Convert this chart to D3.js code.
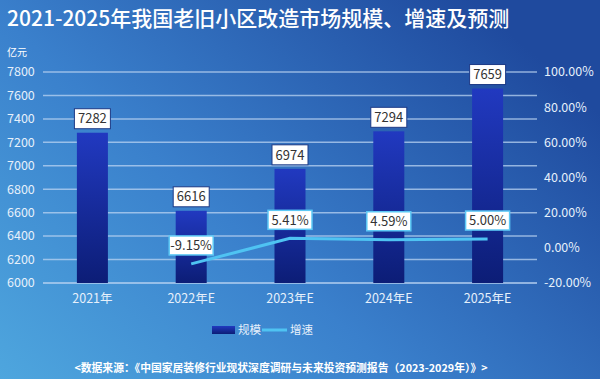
<!DOCTYPE html>
<html><head><meta charset="utf-8">
<script src="https://cdn.jsdelivr.net/npm/d3@7"></script>
<style>html,body{margin:0;padding:0;overflow:hidden;}svg{display:block;}</style>
</head><body>
<script>
const categories = ["2021年","2022年E","2023年E","2024年E","2025年E"];
const scaleValues = [7282,6616,6974,7294,7659];
const growthValues = [null,-9.15,5.41,4.59,5.00];
const growthLabels = ["-9.15%","5.41%","4.59%","5.00%"];
const leftTicks = [6000,6200,6400,6600,6800,7000,7200,7400,7600,7800];
const rightTicks = [-20,0,20,40,60,80,100];
const titleText = "2021-2025年我国老旧小区改造市场规模、增速及预测";
const unitText = "亿元";
const legendNames = ["规模","增速"];
const sourceText = "<数据来源：《中国家居装修行业现状深度调研与未来投资预测报告（2023-2029年）》>";

const W = 600, H = 379;
const font = "'Noto Sans CJK SC','Noto Sans',sans-serif";
const svg = d3.select("body").append("svg").attr("width", W).attr("height", H);
const defs = svg.append("defs");
const bg = defs.append("linearGradient").attr("id","bg").attr("x1","0").attr("y1","1").attr("x2","1").attr("y2","0.3");
bg.append("stop").attr("offset","0").attr("stop-color","#4ea6de");
bg.append("stop").attr("offset","0.45").attr("stop-color","#3a80cc");
bg.append("stop").attr("offset","1").attr("stop-color","#1f4a9e");
const barG = defs.append("linearGradient").attr("id","barG").attr("x1","0").attr("y1","0").attr("x2","0").attr("y2","1");
barG.append("stop").attr("offset","0").attr("stop-color","#2139c0");
barG.append("stop").attr("offset","1").attr("stop-color","#0c1d76");
const legG = defs.append("linearGradient").attr("id","legG").attr("x1","0").attr("y1","0").attr("x2","0").attr("y2","1");
legG.append("stop").attr("offset","0").attr("stop-color","#2139c0");
legG.append("stop").attr("offset","1").attr("stop-color","#0c1d76");

svg.append("rect").attr("width",W).attr("height",H).attr("fill","url(#bg)");

const x = d3.scaleBand().domain(categories).range([43,537]).paddingInner(0.686).paddingOuter(0.343);
const yL = d3.scaleLinear().domain([6000,7800]).range([283,72]);
const yR = d3.scaleLinear().domain([-20,100]).range([283,72]);

// title
svg.append("text").attr("x",7).attr("y",26).attr("fill","#fff").attr("font-family",font)
  .attr("font-size",21).attr("font-weight",500).text(titleText);
svg.append("text").attr("x",7).attr("y",56).attr("fill","#fff").attr("font-family",font)
  .attr("font-size",10).text(unitText);

// gridlines
svg.append("g").selectAll("line").data(leftTicks).join("line")
  .attr("x1",43).attr("x2",537).attr("y1",d=>yL(d)).attr("y2",d=>yL(d))
  .attr("stroke","#b9d3f2").attr("stroke-opacity",d=>d===6000?0.95:0.75).attr("stroke-width",1.5);

// left axis labels
svg.append("g").selectAll("text").data(leftTicks).join("text")
  .attr("x",7).attr("y",d=>yL(d)).attr("dy","0.35em").attr("fill","#e6f0fb")
  .attr("font-family",font).attr("font-size",12.5).text(d=>d);
// right axis labels
svg.append("g").selectAll("text").data(rightTicks).join("text")
  .attr("x",544).attr("y",d=>yR(d)).attr("dy","0.35em").attr("fill","#e6f0fb")
  .attr("font-family",font).attr("font-size",12.5).text(d=>d.toFixed(2)+"%");

// x labels
svg.append("g").selectAll("text").data(categories).join("text")
  .attr("x",d=>x(d)+x.bandwidth()/2).attr("y",299).attr("dy","0.35em").attr("text-anchor","middle")
  .attr("fill","#e6f0fb").attr("font-family",font).attr("font-size",12.5).text(d=>d);

// bars
svg.append("g").selectAll("rect").data(scaleValues).join("rect")
  .attr("x",(d,i)=>x(categories[i])).attr("width",x.bandwidth())
  .attr("y",d=>yL(d)).attr("height",d=>yL(6000)-yL(d)).attr("fill","url(#barG)");

// line
const pts = growthValues.map((v,i)=>({v, c:categories[i]})).filter(p=>p.v!==null);
svg.append("path").datum(pts)
  .attr("d", d3.line().x(p=>x(p.c)+x.bandwidth()/2).y(p=>yR(p.v)))
  .attr("fill","none").attr("stroke","#4fc3f2").attr("stroke-width",3);

// bar value labels
const vl = svg.append("g").selectAll("g").data(scaleValues).join("g")
  .attr("transform",(d,i)=>`translate(${x(categories[i])+x.bandwidth()/2},${yL(d)-14})`);
vl.append("rect").attr("x",-18).attr("y",-10).attr("width",36).attr("height",20)
  .attr("fill","#fff").attr("stroke","#1d3a86").attr("stroke-width",1);
vl.append("text").attr("text-anchor","middle").attr("dy","0.36em").attr("fill","#333")
  .attr("font-family",font).attr("font-size",13).text(d=>d);

// growth labels
const gl = svg.append("g").selectAll("g").data(pts).join("g")
  .attr("transform",p=>`translate(${x(p.c)+x.bandwidth()/2},${yR(p.v)-18.5})`);
gl.append("rect").attr("x",-22).attr("y",-9.5).attr("width",44).attr("height",19)
  .attr("fill","#fff").attr("stroke","#5cc8f5").attr("stroke-width",1.5);
gl.append("text").attr("text-anchor","middle").attr("dy","0.36em").attr("fill","#333")
  .attr("font-family",font).attr("font-size",13).text((p,i)=>growthLabels[i]);

// legend
svg.append("rect").attr("x",212).attr("y",326).attr("width",23).attr("height",8).attr("fill","url(#legG)");
svg.append("text").attr("x",238).attr("y",330).attr("dy","0.35em").attr("fill","#e6f0fb")
  .attr("font-family",font).attr("font-size",11.5).text(legendNames[0]);
svg.append("line").attr("x1",262).attr("x2",287).attr("y1",330).attr("y2",330)
  .attr("stroke","#4fc3f2").attr("stroke-width",3);
svg.append("text").attr("x",290).attr("y",330).attr("dy","0.35em").attr("fill","#e6f0fb")
  .attr("font-family",font).attr("font-size",11.5).text(legendNames[1]);

// source
svg.append("text").attr("x",281).attr("y",368).attr("dy","0.35em").attr("text-anchor","middle")
  .attr("fill","#fff").attr("font-family",font).attr("font-size",10.8).attr("font-weight",700)
  .text(sourceText);
</script>
</body></html>
